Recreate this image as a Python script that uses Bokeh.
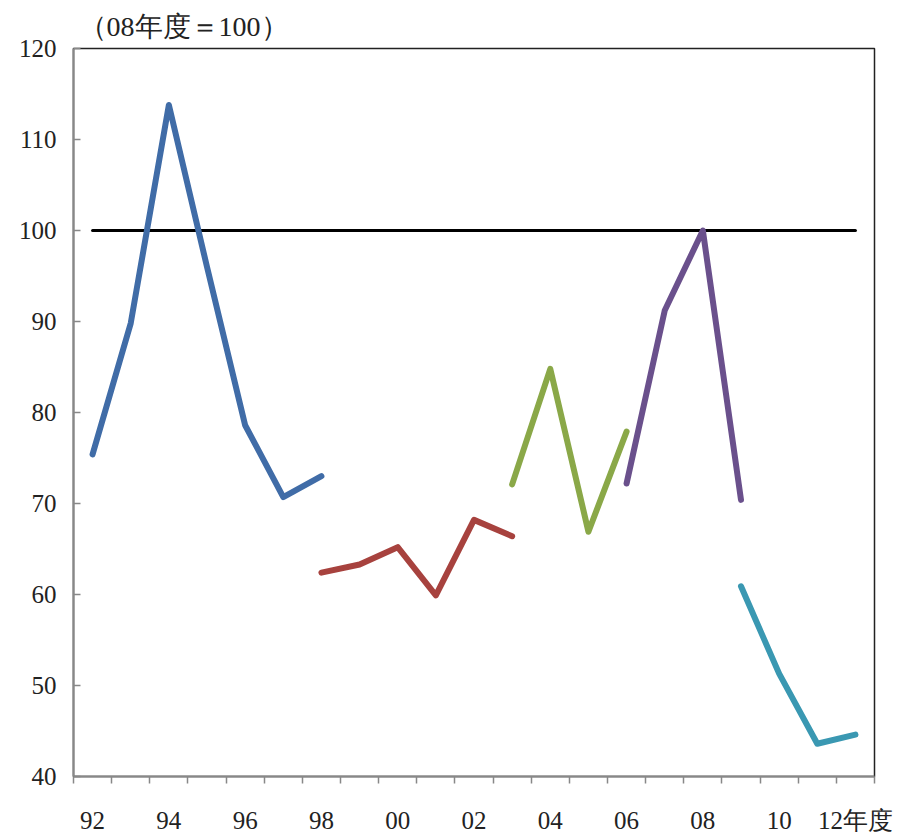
from bokeh.plotting import figure
from bokeh.models import FixedTicker, Range1d
from bokeh.embed import file_html
from bokeh.resources import INLINE

# ---- data ----
years = ["92", "93", "94", "95", "96", "97", "98", "99", "00", "01", "02",
         "03", "04", "05", "06", "07", "08", "09", "10", "11", "12"]
tick_labels = ["92", "94", "96", "98", "00", "02", "04", "06", "08", "10", "12年度"]

s1_years = ["92", "93", "94", "95", "96", "97", "98"]
s1_vals = [75.4, 89.8, 113.8, 96.0, 78.6, 70.7, 73.0]

s2_years = ["98", "99", "00", "01", "02", "03"]
s2_vals = [62.4, 63.3, 65.2, 59.9, 68.2, 66.4]

s3_years = ["03", "04", "05", "06"]
s3_vals = [72.1, 84.8, 66.9, 77.9]

s4_years = ["06", "07", "08", "09"]
s4_vals = [72.2, 91.2, 100.0, 70.4]

s5_years = ["09", "10", "11", "12"]
s5_vals = [60.9, 51.3, 43.6, 44.6]

base_years = ["92", "12"]
base_vals = [100, 100]

colors = ["#406CA7", "#A7423E", "#8AA848", "#6A508C", "#3A98B2"]

FONT = "Liberation Serif"


def idx(ys):
    return [years.index(y) for y in ys]


p = figure(width=900, height=836, output_backend="svg", toolbar_location=None,
           x_range=Range1d(-0.5, len(years) - 0.5), y_range=Range1d(40, 120),
           min_border_left=73, min_border_top=48, min_border_right=26,
           min_border_bottom=59)

p.title.text = "（08年度＝100）"
p.title.text_font = FONT
p.title.text_font_size = "28px"
p.title.text_font_style = "normal"
p.title.text_color = "#222222"
p.title.align = "left"
p.title.offset = 5
p.title.standoff = 13

p.xgrid.visible = False
p.ygrid.visible = False
p.outline_line_color = "#222222"
p.outline_line_width = 1.5
p.background_fill_color = "white"
p.border_fill_color = "white"

# baseline
p.line(idx(base_years), base_vals, line_color="black", line_width=3, line_cap="round")

series = [(s1_years, s1_vals), (s2_years, s2_vals), (s3_years, s3_vals),
          (s4_years, s4_vals), (s5_years, s5_vals)]
for (ys, vs), c in zip(series, colors):
    p.line(idx(ys), vs, line_color=c, line_width=6, line_cap="round", line_join="round")

# x axis
label_pos = list(range(0, len(years), 2))
p.xaxis.ticker = FixedTicker(ticks=label_pos,
                             minor_ticks=[i - 0.5 for i in range(len(years) + 1)])
p.xaxis.major_label_overrides = {i: t for i, t in zip(label_pos, tick_labels)}
p.xaxis.major_tick_line_color = None
p.xaxis.minor_tick_out = 7
p.xaxis.minor_tick_in = 0
p.xaxis.minor_tick_line_color = "#888888"
p.xaxis.minor_tick_line_width = 1.5
p.xaxis.axis_line_color = "#888888"
p.xaxis.axis_line_width = 2
p.xaxis.major_label_text_font = FONT
p.xaxis.major_label_text_font_size = "25px"
p.xaxis.major_label_text_color = "#222222"
p.xaxis.major_label_standoff = 23

# y axis
p.yaxis.ticker = FixedTicker(ticks=list(range(40, 121, 10)))
p.yaxis.major_tick_in = 7
p.yaxis.major_tick_out = 0
p.yaxis.minor_tick_line_color = None
p.yaxis.major_tick_line_color = "#888888"
p.yaxis.major_tick_line_width = 1.5
p.yaxis.axis_line_color = "#888888"
p.yaxis.axis_line_width = 2
p.yaxis.major_label_text_font = FONT
p.yaxis.major_label_text_font_size = "25px"
p.yaxis.major_label_text_color = "#222222"
p.yaxis.major_label_standoff = 17

open("out.html", "w").write(file_html(p, INLINE))
